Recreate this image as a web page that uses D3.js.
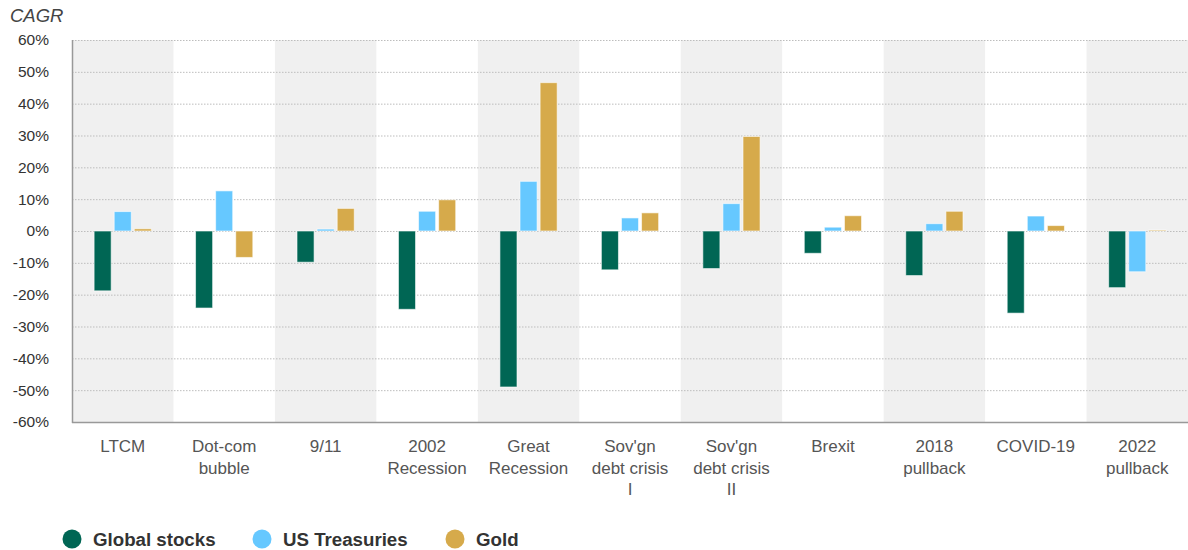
<!DOCTYPE html>
<html>
<head>
<meta charset="utf-8">
<script src="https://cdn.jsdelivr.net/npm/d3@7"></script>
<style>
  body { margin: 0; background: #fff; }
  text { font-family: "Liberation Sans", Arial, sans-serif; }
</style>
</head>
<body>
<div id="chart"></div>
<script>
// Events (x labels, split into lines)
const events = [
  ["LTCM"],
  ["Dot-com", "bubble"],
  ["9/11"],
  ["2002", "Recession"],
  ["Great", "Recession"],
  ["Sov'gn", "debt crisis", "I"],
  ["Sov'gn", "debt crisis", "II"],
  ["Brexit"],
  ["2018", "pullback"],
  ["COVID-19"],
  ["2022", "pullback"]
];
const seriesNames = ["Global stocks", "US Treasuries", "Gold"];
const globalStocks = [-18.8, -24.2, -9.8, -24.6, -49.0, -12.2, -11.8, -7.0, -14.0, -25.8, -17.8];
const usTreasuries = [6.1, 12.6, 0.6, 6.2, 15.6, 4.1, 8.6, 1.2, 2.3, 4.7, -12.8];
const gold = [0.7, -8.3, 7.1, 9.8, 46.6, 5.7, 29.7, 4.8, 6.2, 1.7, 0.3];
const yTicks = [60, 50, 40, 30, 20, 10, 0, -10, -20, -30, -40, -50, -60];
const colors = ["#006654", "#66c8ff", "#d6aa4b"];

const W = 1188, H = 550;
const m = { left: 72, right: 0, top: 40, bottom: 128 };

const svg = d3.select("#chart").append("svg")
  .attr("width", W).attr("height", H);

const x = d3.scaleBand()
  .domain(d3.range(events.length))
  .range([m.left, W - m.right]);

const xs = d3.scaleBand()
  .domain(d3.range(3))
  .range([0, x.bandwidth()])
  .paddingInner(0.15)
  .paddingOuter(1.1);

const y = d3.scaleLinear()
  .domain([-60, 60])
  .range([H - m.bottom, m.top]);

// alternating bands
svg.append("g").selectAll("rect")
  .data(d3.range(events.length).filter(i => i % 2 === 0))
  .join("rect")
  .attr("x", i => x(i))
  .attr("y", m.top)
  .attr("width", x.bandwidth())
  .attr("height", y(-60) - m.top)
  .attr("fill", "#f0f0f0");

// gridlines
svg.append("g").selectAll("line")
  .data(yTicks.filter(t => t !== -60))
  .join("line")
  .attr("x1", m.left).attr("x2", W - m.right)
  .attr("y1", d => y(d) + 0.5).attr("y2", d => y(d) + 0.5)
  .attr("stroke", "#bdbdbd")
  .attr("stroke-dasharray", "1.5,1.5");

// y tick labels
svg.append("g").selectAll("text")
  .data(yTicks)
  .join("text")
  .attr("x", 49)
  .attr("y", d => y(d))
  .attr("dy", "0.35em")
  .attr("text-anchor", "end")
  .attr("font-size", 15.5)
  .attr("fill", "#333")
  .text(d => d + "%");

svg.append("text")
  .attr("x", 10).attr("y", 22)
  .attr("font-size", 18.5)
  .attr("font-style", "italic")
  .attr("fill", "#444")
  .text("CAGR");

// bars
const allSeries = [globalStocks, usTreasuries, gold];
allSeries.forEach((vals, s) => {
  svg.append("g").selectAll("rect")
    .data(vals)
    .join("rect")
    .attr("x", (d, i) => x(i) + xs(s))
    .attr("y", d => y(Math.max(0, d)))
    .attr("width", xs.bandwidth())
    .attr("height", d => Math.abs(y(d) - y(0)))
    .attr("fill", colors[s])
    .attr("stroke", "#ffffff")
    .attr("stroke-opacity", 0.6)
    .attr("stroke-width", 1);
});

// axis lines
svg.append("line")
  .attr("x1", m.left + 0.5).attr("x2", m.left + 0.5)
  .attr("y1", m.top).attr("y2", y(-60) + 1)
  .attr("stroke", "#999").attr("stroke-width", 1.5);
svg.append("line")
  .attr("x1", m.left).attr("x2", W)
  .attr("y1", y(-60) + 0.5).attr("y2", y(-60) + 0.5)
  .attr("stroke", "#999").attr("stroke-width", 1.5);

// x labels
const xl = svg.append("g").selectAll("text")
  .data(events)
  .join("text")
  .attr("x", (d, i) => x(i) + x.bandwidth() / 2)
  .attr("y", 452)
  .attr("text-anchor", "middle")
  .attr("font-size", 17)
  .attr("fill", "#555");
xl.selectAll("tspan")
  .data(d => d)
  .join("tspan")
  .attr("x", function() { return this.parentNode.getAttribute("x"); })
  .attr("dy", (d, j) => j === 0 ? 0 : 21.5)
  .text(d => d);

// legend
const legendX = [72, 262, 455];
const lg = svg.append("g").selectAll("g")
  .data(seriesNames)
  .join("g")
  .attr("transform", (d, i) => `translate(${legendX[i]},539)`);
lg.append("circle").attr("r", 9.5).attr("fill", (d, i) => colors[i]);
lg.append("text")
  .attr("x", 21).attr("dy", "0.36em")
  .attr("font-size", 18.7).attr("font-weight", "bold")
  .attr("fill", "#333")
  .text(d => d);
</script>
</body>
</html>
